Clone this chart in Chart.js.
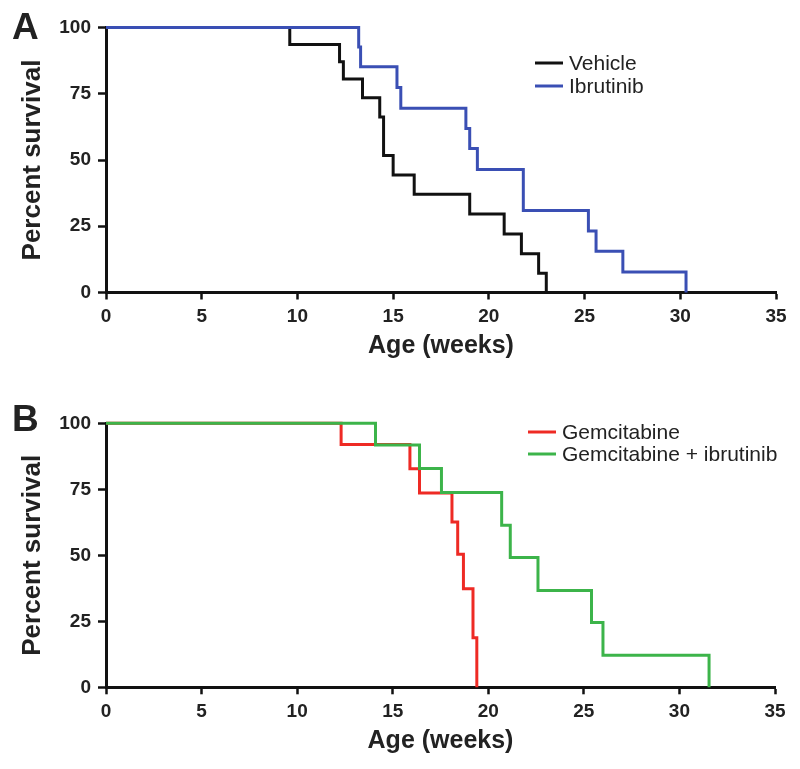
<!DOCTYPE html>
<html>
<head>
<meta charset="utf-8">
<script src="https://cdn.jsdelivr.net/npm/chart.js@4.4.1/dist/chart.umd.min.js"></script>
<style>
  body { margin: 0; background: #fff; }
  .panel { position: absolute; left: 0; width: 800px; }
</style>
</head>
<body>
<div class="panel" style="top:0;height:384px"><canvas id="chartA"></canvas></div>
<div class="panel" style="top:384px;height:385px"><canvas id="chartB"></canvas></div>
<script>
// panel A: vehicle vs ibrutinib
const vehicleWeeks = [0, 9.6, 12.2, 12.4, 13.4, 14.3, 14.5, 15.0, 16.1, 19.0, 20.8, 21.7, 22.6, 23.0]
const vehicleSurvival = [100, 93.6, 87.1, 80.6, 73.5, 66.2, 51.7, 44.3, 37.1, 29.6, 22.1, 14.6, 7.3, 0]
const ibrutinibWeeks = [0, 13.2, 13.3, 15.2, 15.4, 18.8, 19.0, 19.4, 21.8, 25.2, 25.6, 27.0, 30.3]
const ibrutinibSurvival = [100, 92.6, 85.2, 77.4, 69.5, 61.9, 54.3, 46.4, 30.9, 23.2, 15.6, 7.7, 0]

// panel B: gemcitabine vs gemcitabine + ibrutinib
const gemWeeks = [0, 12.3, 15.9, 16.4, 18.1, 18.4, 18.7, 19.2, 19.4]
const gemSurvival = [100, 92.0, 82.8, 73.6, 62.6, 50.4, 37.3, 18.8, 0]
const gemIbrWeeks = [0, 14.1, 16.4, 17.55, 20.7, 21.15, 22.6, 25.4, 26.0, 31.55]
const gemIbrSurvival = [100, 91.8, 82.9, 73.8, 61.4, 49.2, 36.7, 24.5, 12.1, 0]

const weekTicks = [0, 5, 10, 15, 20, 25, 30, 35]
const survivalTicks = [0, 25, 50, 75, 100]

const FONT = '"Liberation Sans", Arial, Helvetica, sans-serif'

const toPoints = (xs, ys) => xs.map((x, i) => ({ x, y: ys[i] }))

const kmLegend = {
  id: 'kmLegend',
  afterDraw(chart, args, opts) {
    const ctx = chart.ctx
    ctx.save()
    ctx.font = '21px ' + FONT
    ctx.textBaseline = 'middle'
    ctx.textAlign = 'left'
    // legend rows follow the dataset array order
    chart.data.datasets.forEach((ds, i) => {
      const y = opts.y + i * opts.rowGap
      ctx.strokeStyle = ds.borderColor
      ctx.lineWidth = 3
      ctx.beginPath()
      ctx.moveTo(opts.x, y)
      ctx.lineTo(opts.x + 28, y)
      ctx.stroke()
      ctx.fillStyle = '#222'
      ctx.fillText(ds.label, opts.x + 34, y + 1)
    })
    ctx.restore()
  }
}

const panelLetter = {
  id: 'panelLetter',
  afterDraw(chart, args, opts) {
    const ctx = chart.ctx
    ctx.save()
    ctx.font = 'bold 37px ' + FONT
    ctx.fillStyle = '#222'
    ctx.textBaseline = 'alphabetic'
    ctx.fillText(opts.text, opts.x, opts.y)
    ctx.restore()
  }
}

const makeChart = (canvas, datasets, cfg) => {
  return new Chart(canvas, {
    type: 'scatter',
    data: { datasets },
    options: {
      responsive: true,
      maintainAspectRatio: false,
      animation: false,
      events: [],
      layout: { padding: { left: 0, right: cfg.right, top: cfg.top, bottom: 0 } },
      elements: { point: { radius: 0 } },
      plugins: {
        legend: { display: false },
        tooltip: { enabled: false },
        kmLegend: cfg.legend,
        panelLetter: cfg.letter,
      },
      scales: {
        x: {
          type: 'linear',
          min: 0,
          max: 35,
          afterFit: (s) => { s.height = cfg.xHeight },
          afterBuildTicks: (s) => { s.ticks = weekTicks.map(v => ({ value: v })) },
          border: { display: true, color: '#111', width: 3 },
          grid: { display: true, drawOnChartArea: false, drawTicks: true, tickLength: 7, tickWidth: 2.5, tickColor: '#111' },
          ticks: { color: '#222', padding: 6, font: { family: FONT, size: 19, weight: 'bold' } },
          title: {
            display: true,
            text: 'Age (weeks)',
            color: '#222',
            font: { family: FONT, size: 25, weight: 'bold' },
            padding: { top: 0, bottom: cfg.xTitlePad },
          },
        },
        y: {
          type: 'linear',
          min: 0,
          max: 100,
          afterFit: (s) => { s.width = 106 },
          afterBuildTicks: (s) => { s.ticks = survivalTicks.map(v => ({ value: v })) },
          border: { display: true, color: '#111', width: 3 },
          grid: { display: true, drawOnChartArea: false, drawTicks: true, tickLength: 8, tickWidth: 2.5, tickColor: '#111' },
          ticks: { color: '#222', padding: 7, font: { family: FONT, size: 19, weight: 'bold' } },
          title: {
            display: true,
            text: 'Percent survival',
            color: '#222',
            font: { family: FONT, size: 26, weight: 'bold' },
            padding: { top: 17, bottom: 0 },
          },
        },
      },
    },
    plugins: [kmLegend, panelLetter],
  })
}

const line = (label, xs, ys, color, order) => ({
  label,
  data: toPoints(xs, ys),
  showLine: true,
  stepped: 'before',
  borderColor: color,
  backgroundColor: color,
  borderWidth: 3,
  pointRadius: 0,
  clip: 6,
  order,
})

makeChart(document.getElementById('chartA'), [
  line('Vehicle', vehicleWeeks, vehicleSurvival, '#111111', 1),
  line('Ibrutinib', ibrutinibWeeks, ibrutinibSurvival, '#3a4fb4', 0),
], {
  top: 27.5, right: 24, xHeight: 91.5, xTitlePad: 23,
  legend: { x: 535, y: 63, rowGap: 23 },
  letter: { text: 'A', x: 12, y: 39 },
})

makeChart(document.getElementById('chartB'), [
  line('Gemcitabine', gemWeeks, gemSurvival, '#ee2a24', 1),
  line('Gemcitabine + ibrutinib', gemIbrWeeks, gemIbrSurvival, '#3cb44a', 0),
], {
  top: 39.3, right: 25, xHeight: 81.7, xTitlePad: 13,
  legend: { x: 528, y: 48, rowGap: 22 },
  letter: { text: 'B', x: 12, y: 47 },
})
</script>
</body>
</html>
